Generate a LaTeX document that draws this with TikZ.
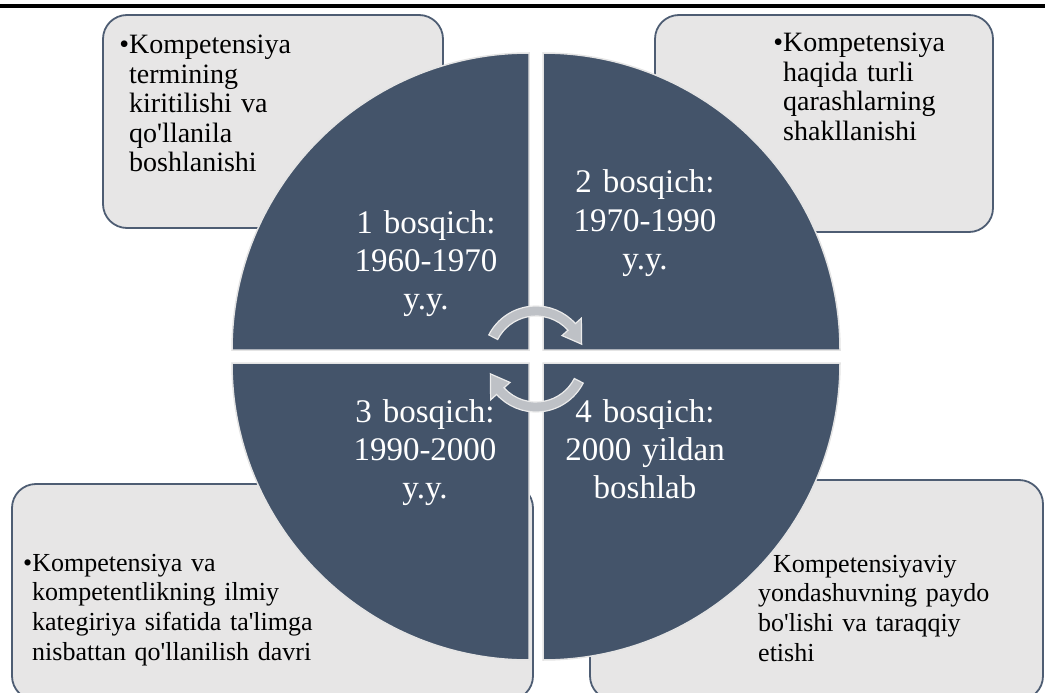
\documentclass[tikz,border=0pt]{standalone}
\usepackage{fontspec}
\setmainfont{Liberation Serif}[Ligatures=TeXOff]
\definecolor{boxfill}{HTML}{E7E6E6}
\definecolor{boxline}{HTML}{4E5D73}
\definecolor{qfill}{HTML}{44546A}
\definecolor{qline}{HTML}{E4E4E4}
\definecolor{arrfill}{HTML}{BEC1C6}
\definecolor{arrline}{HTML}{EBEBEB}
\begin{document}
\begin{tikzpicture}[x=1bp,y=-1bp,
  cbox/.style={fill=boxfill, draw=boxline, line width=1.8bp, rounded corners=24bp},
  quarter/.style={fill=qfill, draw=qline, line width=1.5bp},
  cyc/.style={fill=arrfill, draw=arrline, line width=1.2bp},
  ctext/.style={inner sep=0pt, anchor=base west, text width=#1, align=left,
    font=\fontsize{28bp}{29.5bp}\selectfont, text=black},
  btext/.style={inner sep=0pt, anchor=base west, text width=#1, align=left,
    font=\fontsize{26bp}{29.7bp}\selectfont, text=black},
  qtext/.style={inner sep=0pt, anchor=base, text width=220bp, align=center,
    font=\fontsize{33bp}{38bp}\selectfont, text=white}]
\useasboundingbox (0,0) rectangle (1045,693);
% top rule
\fill[black] (0,4) rectangle (1045,8);
% corner boxes
\draw[cbox] (103,15) rectangle (443,228);
\draw[cbox] (655,15) rectangle (993,232);
\draw[cbox] (12,484) rectangle (533,700);
\draw[cbox] (590,480) rectangle (1043,700);
% quarters
\draw[quarter] (529,350) -- (232,350) arc[start angle=180, end angle=270, radius=297] -- cycle;
\draw[quarter] (543,350) -- (543,53) arc[start angle=270, end angle=360, radius=297] -- cycle;
\draw[quarter] (529,363) -- (232,363) arc[start angle=180, end angle=90, radius=297] -- cycle;
\draw[quarter] (543,363) -- (840,363) arc[start angle=0, end angle=90, radius=297] -- cycle;
% circular arrows
\begin{scope}[shift={(536,359)}]
\draw[cyc] (-153:43) -- (-153:53) arc[start angle=-153, end angle=-42, radius=53]
  -- (-42:61) -- (-18:48) -- (-42:35) -- (-42:43)
  arc[start angle=-42, end angle=-153, radius=43] -- cycle;
\draw[cyc] (27:43) -- (27:53) arc[start angle=27, end angle=138, radius=53]
  -- (138:61) -- (162:48) -- (138:35) -- (138:43)
  arc[start angle=138, end angle=27, radius=43] -- cycle;
\end{scope}
% quarter texts
\node[qtext] (q1) at (426,233) {1 bosqich:\\1960-1970\\y.y.};
\node[qtext] (q2) at (645,193) {2 bosqich:\\1970-1990\\y.y.};
\node[qtext] (q3) at (425,422) {3 bosqich:\\1990-2000\\y.y.};
\node[qtext] (q4) at (645,422) {4 bosqich:\\2000 yildan\\boshlab};
% corner texts
\node[ctext=300bp] (tl) at (129,54) {\llap{•}Kompetensiya\\termining\\kiritilishi va\\qo'llanila\\boshlanishi};
\node[ctext=250bp] (tr) at (783,52) {\llap{•}Kompetensiya\\haqida turli\\qarashlarning\\shakllanishi};
\node[btext=500bp] (bl) at (32,571) {\hspace*{-9bp}•Kompetensiya va\\kompetentlikning ilmiy\\kategiriya sifatida ta'limga\\nisbattan qo'llanilish davri};
\node[btext=300bp] (br) at (758,572) {\hspace*{15bp}Kompetensiyaviy\\yondashuvning paydo\\bo'lishi va taraqqiy\\etishi};
\end{tikzpicture}
\end{document}
